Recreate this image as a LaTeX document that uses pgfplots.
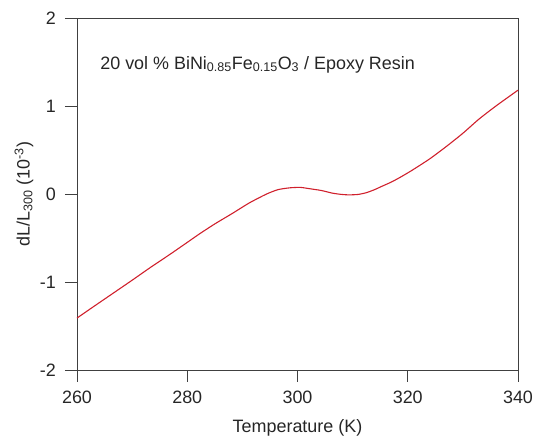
\documentclass[border=0pt]{standalone}
\usepackage{pgfplots}
\pgfplotsset{compat=1.18}
\usepackage{fontspec}
\setmainfont{Liberation Sans}
\definecolor{curvered}{RGB}{208,32,44}
\newcommand{\lblfont}{\fontsize{18}{20}\selectfont}

\begin{document}
\lblfont
\begin{tikzpicture}
\begin{axis}[name=ax,scale only axis,width=441bp,height=352bp,
  xmin=260,xmax=340,ymin=-2,ymax=2,
  xtick={260,280,...,340},ytick={-2,-1,0,1,2},
  tick align=outside,xtick pos=bottom,ytick pos=left,
  major tick length=12bp,
  axis line style={black!75,line width=0.6pt},
  tick style={black!75,line width=0.6pt},
  /pgf/number format/assume math mode=true,
  ticklabel style={font=\lblfont,text=black!85},
  xticklabel style={yshift=-3bp},
  yticklabel style={xshift=-3bp},
  every axis x label/.style={at={(rel axis cs:0.5,0)},anchor=center,yshift=-58bp},
  every axis y label/.style={at={(rel axis cs:0,0.5)},anchor=center,rotate=90,yshift=53bp},
  label style={font=\lblfont,text=black!85},
  xlabel={Temperature (K)},
  ylabel={dL/L\textsubscript{300} (10\textsuperscript{-3})},
  clip=false]
\addplot[curvered,line width=1.1pt,smooth,tension=0.4] coordinates {
(260,-1.41)(263,-1.28)(267.2,-1.10)(270,-0.98)(273.2,-0.84)(277,-0.68)
(280,-0.55)(282.3,-0.45)(285,-0.34)(288.2,-0.22)(291.3,-0.10)(294.4,0.00)
(296.5,0.05)(298.6,0.07)(300.5,0.075)(302.2,0.06)(304.3,0.04)(306.3,0.01)
(308,-0.005)(309.4,-0.01)(311,-0.005)(312.5,0.015)(314,0.05)(315.4,0.09)
(317,0.135)(318.5,0.185)(320.8,0.27)(324,0.40)(327,0.54)(330,0.69)
(332.9,0.85)(336,1.00)(340,1.18)};
\node[anchor=base west,inner sep=0pt,text=black!85,font=\fontsize{18}{20}\selectfont] at (axis cs:264.2,1.42)
  {20 vol \% BiNi\textsubscript{0.85}Fe\textsubscript{0.15}O\textsubscript{3} / Epoxy Resin};
\end{axis}
\pgfresetboundingbox
\path ([shift={(-77bp,-69bp)}]ax.south west) rectangle ([shift={(18bp,18bp)}]ax.north east);
\end{tikzpicture}
\end{document}
